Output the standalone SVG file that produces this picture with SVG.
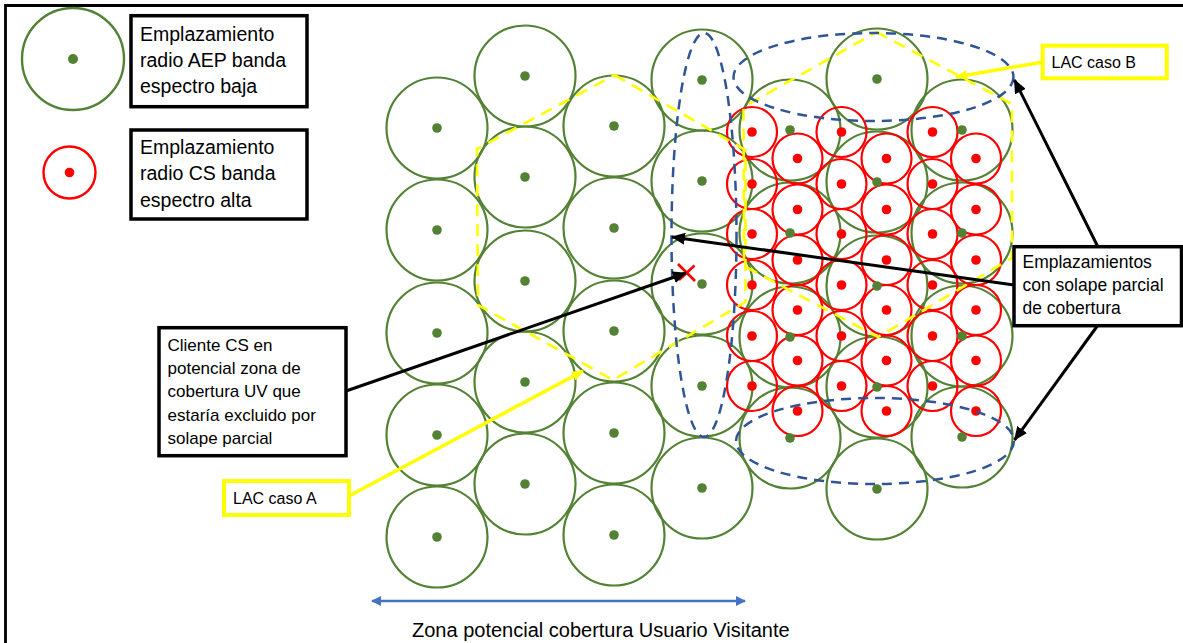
<svg xmlns="http://www.w3.org/2000/svg" width="1183" height="643" viewBox="0 0 1183 643">
<style>
.g{fill:none;stroke:#548235;stroke-width:2.2}
.gd{fill:#548235}
.r{fill:none;stroke:#FF0000;stroke-width:2.2}
.rd{fill:#FF0000}
.ell{fill:none;stroke:#2F5597;stroke-width:2.5;stroke-dasharray:10 7}
.hex{fill:none;stroke:#FFFF00;stroke-width:2.6;stroke-dasharray:12 8}
.box{fill:#fff;stroke:#000;stroke-width:3.5}
.ybox{fill:#fff;stroke:#FFFF00;stroke-width:4}
.t{font-family:"Liberation Sans",Arial,sans-serif;fill:#000}
.blk{stroke:#000;stroke-width:3;fill:none}
.yl{stroke:#FFFF00;stroke-width:3.5;fill:none}
</style>
<defs>
<marker id="ab" markerUnits="userSpaceOnUse" markerWidth="14" markerHeight="12" refX="13" refY="6" orient="auto"><path d="M0,0 L14,6 L0,12 z" fill="#000"/></marker>
<marker id="ay" markerUnits="userSpaceOnUse" markerWidth="12" markerHeight="10" refX="11" refY="5" orient="auto"><path d="M0,0 L12,5 L0,10 z" fill="#FFFF00"/></marker>
<marker id="abl" markerUnits="userSpaceOnUse" markerWidth="10" markerHeight="10" refX="9" refY="5" orient="auto-start-reverse"><path d="M0,0 L10,5 L0,10 z" fill="#4472C4"/></marker>
</defs>
<rect width="1183" height="643" fill="#fff"/>
<path d="M5.5,643 V5.5 H1183" fill="none" stroke="#000" stroke-width="2.8"/>

<g id="aep-cells">
<g class="g">
<circle cx="437" cy="128" r="50.5"/><circle cx="437" cy="230" r="50.5"/><circle cx="437" cy="333" r="50.5"/><circle cx="437" cy="435" r="50.5"/><circle cx="437" cy="537" r="50.5"/>
<circle cx="525" cy="76" r="50.5"/><circle cx="525" cy="177" r="50.5"/><circle cx="525" cy="281" r="50.5"/><circle cx="525" cy="382" r="50.5"/><circle cx="525" cy="484" r="50.5"/>
<circle cx="614" cy="126" r="50.5"/><circle cx="614" cy="228" r="50.5"/><circle cx="614" cy="331" r="50.5"/><circle cx="614" cy="433" r="50.5"/><circle cx="614" cy="535" r="50.5"/>
<circle cx="702" cy="80" r="50.5"/><circle cx="702" cy="181" r="50.5"/><circle cx="702" cy="284" r="50.5"/><circle cx="702" cy="386" r="50.5"/><circle cx="702" cy="488" r="50.5"/>
<circle cx="790" cy="130" r="50.5"/><circle cx="790" cy="233" r="50.5"/><circle cx="790" cy="337" r="50.5"/><circle cx="790" cy="438" r="50.5"/>
<circle cx="877" cy="79" r="50.5"/><circle cx="877" cy="182" r="50.5"/><circle cx="877" cy="286" r="50.5"/><circle cx="877" cy="387" r="50.5"/><circle cx="877" cy="489" r="50.5"/>
<circle cx="962" cy="130" r="50.5"/><circle cx="962" cy="233" r="50.5"/><circle cx="962" cy="336" r="50.5"/><circle cx="962" cy="437" r="50.5"/>
</g>
</g>

<g id="cs-cells">
<g class="r">
<circle cx="752" cy="132" r="25"/><circle cx="752" cy="184" r="25"/><circle cx="752" cy="234" r="25"/><circle cx="752" cy="285" r="25"/><circle cx="752" cy="336" r="25"/><circle cx="752" cy="386" r="25"/>
<circle cx="841.5" cy="132" r="25"/><circle cx="841.5" cy="184" r="25"/><circle cx="841.5" cy="234" r="25"/><circle cx="841.5" cy="285" r="25"/><circle cx="841.5" cy="336" r="25"/><circle cx="841.5" cy="386" r="25"/>
<circle cx="932.5" cy="132" r="25"/><circle cx="932.5" cy="184" r="25"/><circle cx="932.5" cy="234" r="25"/><circle cx="932.5" cy="285" r="25"/><circle cx="932.5" cy="336" r="25"/><circle cx="932.5" cy="386" r="25"/>
<circle cx="797.5" cy="158.5" r="25"/><circle cx="797.5" cy="209.5" r="25"/><circle cx="797.5" cy="260" r="25"/><circle cx="797.5" cy="310" r="25"/><circle cx="797.5" cy="360.5" r="25"/><circle cx="797.5" cy="411" r="25"/>
<circle cx="886.5" cy="158.5" r="25"/><circle cx="886.5" cy="209.5" r="25"/><circle cx="886.5" cy="260" r="25"/><circle cx="886.5" cy="310" r="25"/><circle cx="886.5" cy="360.5" r="25"/><circle cx="886.5" cy="411" r="25"/>
<circle cx="976" cy="158.5" r="25"/><circle cx="976" cy="209.5" r="25"/><circle cx="976" cy="260" r="25"/><circle cx="976" cy="310" r="25"/><circle cx="976" cy="360.5" r="25"/><circle cx="976" cy="411" r="25"/>
</g>
<g class="rd">
<circle cx="752" cy="132" r="4.8"/><circle cx="752" cy="184" r="4.8"/><circle cx="752" cy="234" r="4.8"/><circle cx="752" cy="285" r="4.8"/><circle cx="752" cy="336" r="4.8"/><circle cx="752" cy="386" r="4.8"/>
<circle cx="841.5" cy="132" r="4.8"/><circle cx="841.5" cy="184" r="4.8"/><circle cx="841.5" cy="234" r="4.8"/><circle cx="841.5" cy="285" r="4.8"/><circle cx="841.5" cy="336" r="4.8"/><circle cx="841.5" cy="386" r="4.8"/>
<circle cx="932.5" cy="132" r="4.8"/><circle cx="932.5" cy="184" r="4.8"/><circle cx="932.5" cy="234" r="4.8"/><circle cx="932.5" cy="285" r="4.8"/><circle cx="932.5" cy="336" r="4.8"/><circle cx="932.5" cy="386" r="4.8"/>
<circle cx="797.5" cy="158.5" r="4.8"/><circle cx="797.5" cy="209.5" r="4.8"/><circle cx="797.5" cy="260" r="4.8"/><circle cx="797.5" cy="310" r="4.8"/><circle cx="797.5" cy="360.5" r="4.8"/><circle cx="797.5" cy="411" r="4.8"/>
<circle cx="886.5" cy="158.5" r="4.8"/><circle cx="886.5" cy="209.5" r="4.8"/><circle cx="886.5" cy="260" r="4.8"/><circle cx="886.5" cy="310" r="4.8"/><circle cx="886.5" cy="360.5" r="4.8"/><circle cx="886.5" cy="411" r="4.8"/>
<circle cx="976" cy="158.5" r="4.8"/><circle cx="976" cy="209.5" r="4.8"/><circle cx="976" cy="260" r="4.8"/><circle cx="976" cy="310" r="4.8"/><circle cx="976" cy="360.5" r="4.8"/><circle cx="976" cy="411" r="4.8"/>
</g>
</g>

<g id="aep-dots" class="gd">
<circle cx="437" cy="128" r="4.8"/><circle cx="437" cy="230" r="4.8"/><circle cx="437" cy="333" r="4.8"/><circle cx="437" cy="435" r="4.8"/><circle cx="437" cy="537" r="4.8"/>
<circle cx="525" cy="76" r="4.8"/><circle cx="525" cy="177" r="4.8"/><circle cx="525" cy="281" r="4.8"/><circle cx="525" cy="382" r="4.8"/><circle cx="525" cy="484" r="4.8"/>
<circle cx="614" cy="126" r="4.8"/><circle cx="614" cy="228" r="4.8"/><circle cx="614" cy="331" r="4.8"/><circle cx="614" cy="433" r="4.8"/><circle cx="614" cy="535" r="4.8"/>
<circle cx="702" cy="80" r="4.8"/><circle cx="702" cy="181" r="4.8"/><circle cx="702" cy="284" r="4.8"/><circle cx="702" cy="386" r="4.8"/><circle cx="702" cy="488" r="4.8"/>
<circle cx="790" cy="130" r="4.8"/><circle cx="790" cy="233" r="4.8"/><circle cx="790" cy="337" r="4.8"/><circle cx="790" cy="438" r="4.8"/>
<circle cx="877" cy="79" r="4.8"/><circle cx="877" cy="182" r="4.8"/><circle cx="877" cy="286" r="4.8"/><circle cx="877" cy="387" r="4.8"/><circle cx="877" cy="489" r="4.8"/>
<circle cx="962" cy="130" r="4.8"/><circle cx="962" cy="233" r="4.8"/><circle cx="962" cy="336" r="4.8"/><circle cx="962" cy="437" r="4.8"/>
</g>

<g id="lac-zones">
<polygon class="hex" points="614.5,75 745.5,150 745.5,302 613,380 478,305 477,149"/>
<polygon class="hex" points="876.5,32 1012,104 1012,258 878,337 744,266 743.5,107"/>
</g>

<g id="overlap-zones">
<ellipse class="ell" cx="704" cy="235" rx="32.5" ry="202"/>
<ellipse class="ell" cx="873.5" cy="77" rx="140" ry="44"/>
<ellipse class="ell" cx="875" cy="441" rx="139" ry="43"/>
</g>

<g id="client-x" stroke="#FF0000" stroke-width="2.6">
<line x1="678" y1="264" x2="695" y2="281"/>
<line x1="679" y1="280" x2="694.5" y2="265.5"/>
</g>

<g id="connectors">
<line class="blk" x1="346" y1="391" x2="686" y2="273" marker-end="url(#ab)"/>
<line class="blk" x1="1014" y1="285" x2="672" y2="237" marker-end="url(#ab)"/>
<line class="blk" x1="1098" y1="247" x2="1014.5" y2="80" marker-end="url(#ab)"/>
<line class="blk" x1="1098" y1="325" x2="1014.5" y2="440" marker-end="url(#ab)"/>
<line class="yl" x1="1043" y1="62" x2="956" y2="77" marker-end="url(#ay)"/>
<line class="yl" x1="349" y1="496" x2="583" y2="371" marker-end="url(#ay)"/>
<line x1="372" y1="601" x2="745" y2="601" stroke="#4472C4" stroke-width="2.5" marker-start="url(#abl)" marker-end="url(#abl)"/>
</g>

<g id="legend-aep">
<circle cx="73" cy="59" r="51" fill="none" stroke="#548235" stroke-width="2.4"/>
<circle cx="73" cy="59" r="5" fill="#548235"/>
<rect class="box" x="131" y="15.7" width="176" height="91"/>
<text class="t" font-size="19.5" x="140"><tspan x="140" y="41">Emplazamiento</tspan><tspan x="140" y="67">radio AEP banda</tspan><tspan x="140" y="93">espectro baja</tspan></text>
</g>

<g id="legend-cs">
<circle cx="69.5" cy="172.5" r="26" fill="none" stroke="#FF0000" stroke-width="2.4"/>
<circle cx="69.5" cy="172.5" r="4.8" fill="#FF0000"/>
<rect class="box" x="131" y="130" width="176" height="89"/>
<text class="t" font-size="19.5"><tspan x="140" y="154">Emplazamiento</tspan><tspan x="140" y="180">radio CS banda</tspan><tspan x="140" y="206.5">espectro alta</tspan></text>
</g>

<g id="label-lac-b">
<rect class="ybox" x="1042.7" y="45.7" width="124" height="32.6"/>
<text class="t" font-size="16" x="1051.5" y="68">LAC caso B</text>
</g>

<g id="label-lac-a">
<rect class="ybox" x="224" y="481" width="125" height="34"/>
<text class="t" font-size="16" x="233" y="504">LAC caso A</text>
</g>

<g id="label-cliente">
<rect class="box" x="159" y="327.7" width="187" height="128"/>
<text class="t" font-size="17"><tspan x="167.5" y="350.5">Cliente CS en</tspan><tspan x="167.5" y="374">potencial zona de</tspan><tspan x="167.5" y="397">cobertura UV que</tspan><tspan x="167.5" y="420.5">estaría excluido por</tspan><tspan x="167.5" y="444">solape parcial</tspan></text>
</g>

<g id="label-solape">
<rect class="box" x="1014" y="246.7" width="167.5" height="79"/>
<text class="t" font-size="17.5"><tspan x="1022.5" y="268.3">Emplazamientos</tspan><tspan x="1022.5" y="291">con solape parcial</tspan><tspan x="1022.5" y="314.3">de cobertura</tspan></text>
</g>

<g id="label-zona">
<text class="t" font-size="20" x="412" y="637">Zona potencial cobertura Usuario Visitante</text>
</g>
</svg>
